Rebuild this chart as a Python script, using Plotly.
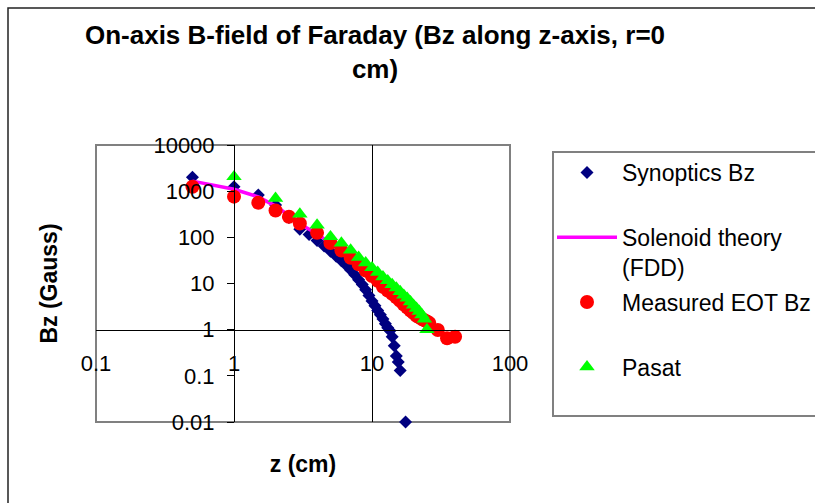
import plotly.graph_objects as go

# ---------------- data ----------------
syn_z = [0.5, 1.0, 1.5, 2.0, 2.5, 3.0, 3.5, 4.0, 4.5, 5.0, 5.5, 6.0, 6.5, 7.0, 7.5, 8.0,
         8.5, 9.0, 9.5, 10.0, 10.5, 11.0, 11.5, 12.0, 12.5, 13.0, 13.5, 14.0, 14.5,
         15.0, 15.5, 16.0, 17.5]
syn_bz = [2000, 1250, 830, 500, 270, 150, 115, 85, 65, 50, 39, 31, 25, 19.5, 15.5, 12,
          9.5, 7.3, 5.5, 4.2, 3.3, 2.6, 2.1, 1.7, 1.35, 1.1, 0.95, 0.7, 0.45,
          0.27, 0.2, 0.13, 0.01]

sol_z = [0.5, 1.0, 1.5, 2.0, 2.5, 3.0, 4.0, 5.0, 6.0, 7.0, 8.0, 9.0, 10.0, 12.0, 14.0,
         16.0, 18.0, 20.0, 22.0, 25.0]
sol_bz = [1650, 1100, 750, 475, 300, 195, 120, 74, 50, 35, 25, 19, 14.5, 9, 6,
          4.2, 3.0, 2.3, 1.85, 1.5]

eot_z = [0.5, 1.0, 1.5, 2.0, 2.5, 3.0, 4.0, 5.0, 6.0, 7.0, 8.0, 9.0, 10.0, 11.0, 12.0,
         13.0, 14.0, 15.0, 16.0, 17.0, 18.0, 19.0, 20.0, 21.0, 22.0, 23.0, 24.0, 25.0,
         26.0, 30.0, 35.0, 40.0]
eot_bz = [1250, 760, 560, 380, 280, 200, 125, 75, 52, 36, 26, 19, 14.5, 11.5, 8.5,
          7.0, 6.0, 5.0, 4.2, 3.5, 3.0, 2.6, 2.3, 2.0, 1.85, 1.7, 1.6, 1.5,
          1.4, 0.98, 0.65, 0.7]

pasat_z = [1, 2, 3, 4, 5, 6, 7, 8, 9, 10, 11, 12, 13, 14, 15, 16, 17, 18, 19, 20,
           21, 22, 23, 24, 25]
pasat_bz = [2060, 700, 320, 185, 103, 75, 53, 37, 28, 22, 17.5, 14, 11.5, 9.5, 8.0,
            6.7, 5.6, 4.8, 4.0, 3.4, 2.9, 2.5, 2.1, 1.7, 1.0]

x_ticks = [0.1, 1, 10, 100]
x_ticktext = ["0.1", "1", "10", "100"]
y_ticks = [0.01, 0.1, 1, 10, 100, 1000, 10000]
y_ticktext = ["0.01", "0.1", "1", "10", "100", "1000", "10000"]

# ---------------- figure ----------------
W, H = 815, 503
L, R, T, B = 96, 305, 145, 81
PW, PH = W - L - R, H - T - B


def px_x(p):
    return (p - L) / PW


def px_y(p):
    return (H - B - p) / PH


FONT = "Liberation Sans, Arial, sans-serif"

fig = go.Figure()
fig.add_trace(go.Scatter(
    x=syn_z, y=syn_bz, mode="markers", name="Synoptics Bz<br> ", legendgroup="g1",
    marker=dict(symbol="diamond", size=10, color="#000080"), cliponaxis=False))
fig.add_trace(go.Scatter(
    x=sol_z, y=sol_bz, mode="lines", name="Solenoid theory<br>(FDD)", legendgroup="g2",
    line=dict(color="#FF00FF", width=3.5), cliponaxis=False))
fig.add_trace(go.Scatter(
    x=eot_z, y=eot_bz, mode="markers", name="Measured EOT Bz<br> ", legendgroup="g3",
    marker=dict(symbol="circle", size=14, color="#FF0000"), cliponaxis=False))
fig.add_trace(go.Scatter(
    x=pasat_z, y=pasat_bz, mode="markers", name="Pasat<br> ", legendgroup="g4",
    marker=dict(symbol="triangle-up", size=13.5, color="#00FF00"), cliponaxis=False))

fig.update_layout(
    width=W, height=H,
    margin=dict(l=L, r=R, t=T, b=B, autoexpand=False),
    paper_bgcolor="white", plot_bgcolor="white",
    font=dict(family=FONT, color="black"),
    title=dict(text="<b>On-axis B-field of Faraday (Bz along z-axis, r=0<br>cm)</b>",
               x=375 / W, xanchor="center", xref="container",
               y=1 - 44 / H, yanchor="top", yref="container",
               font=dict(size=26, family=FONT, color="black")),
    xaxis=dict(type="log", range=[-1, 2], anchor="free", position=1 / 3,
               tickvals=x_ticks, ticktext=x_ticktext, ticks="",
               tickfont=dict(size=22), ticklabelstandoff=14,
               showline=True, linecolor="black", linewidth=1,
               showgrid=True, gridcolor="black", gridwidth=1,
               title=dict(text="<b>z (cm)</b>", font=dict(size=23), standoff=80)),
    yaxis=dict(type="log", range=[-2, 4], anchor="free", position=1 / 3,
               tickvals=y_ticks, ticktext=y_ticktext, ticks="outside", ticklen=7,
               tickcolor="black", tickfont=dict(size=22), ticklabelstandoff=8,
               showline=True, linecolor="black", linewidth=1, showgrid=False,
               title=dict(text="<b>Bz (Gauss)</b>", font=dict(size=23), standoff=88)),
    legend=dict(x=px_x(552), y=px_y(151), xanchor="left", yanchor="top",
                bgcolor="rgba(0,0,0,0)", borderwidth=0, itemwidth=60,
                valign="top", tracegroupgap=2,
                font=dict(size=23, family=FONT, color="black")),
    showlegend=True,
)

# plot-area border (gray), outer chart frame, legend frame
fig.add_shape(type="rect", xref="paper", yref="paper", x0=0, x1=1, y0=0, y1=1,
              line=dict(color="#808080", width=2), layer="below")
fig.add_shape(type="rect", xref="paper", yref="paper",
              x0=px_x(8), x1=px_x(840), y0=px_y(530), y1=px_y(8),
              line=dict(color="#222222", width=1.5), layer="below")
fig.add_shape(type="rect", xref="paper", yref="paper",
              x0=px_x(553), x1=px_x(840), y0=px_y(416), y1=px_y(152),
              line=dict(color="#808080", width=2), layer="below")

fig.write_html("out.html")
